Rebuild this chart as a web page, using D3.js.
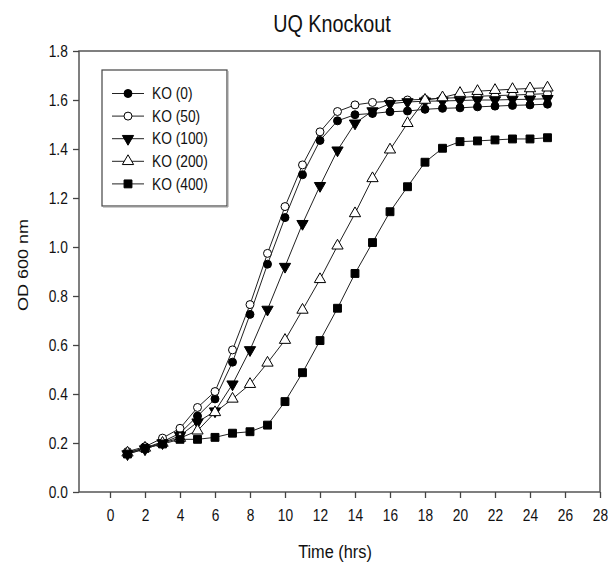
<!DOCTYPE html>
<html>
<head>
<meta charset="utf-8">
<script src="https://cdn.jsdelivr.net/npm/d3@7"></script>
<style>
  html, body { margin: 0; padding: 0; background: #fff; }
  svg { display: block; }
  text { font-family: Arial, "Liberation Sans", sans-serif; fill: #111; }
</style>
</head>
<body>
<svg id="chart" width="608" height="565"></svg>
<script>
// ---- data ----
const hours = [1,2,3,4,5,6,7,8,9,10,11,12,13,14,15,16,17,18,19,20,21,22,23,24,25];
const ko0   = [0.160,0.180,0.205,0.240,0.310,0.380,0.530,0.725,0.930,1.120,1.295,1.435,1.515,1.540,1.545,1.552,1.555,1.562,1.566,1.568,1.572,1.575,1.578,1.580,1.583];
const ko50  = [0.165,0.185,0.220,0.260,0.345,0.410,0.580,0.765,0.974,1.165,1.335,1.470,1.553,1.580,1.590,1.595,1.600,1.603,1.607,1.610,1.615,1.618,1.620,1.623,1.626];
const ko100 = [0.155,0.175,0.200,0.230,0.285,0.330,0.440,0.580,0.745,0.920,1.095,1.250,1.395,1.505,1.555,1.585,1.592,1.595,1.596,1.598,1.600,1.600,1.602,1.603,1.605];
const ko200 = [0.160,0.180,0.200,0.220,0.250,0.325,0.380,0.440,0.527,0.620,0.743,0.868,1.005,1.137,1.280,1.397,1.505,1.600,1.610,1.628,1.636,1.640,1.644,1.647,1.650];
const ko400 = [0.155,0.178,0.196,0.215,0.215,0.223,0.240,0.246,0.273,0.369,0.487,0.618,0.750,0.892,1.018,1.144,1.246,1.346,1.403,1.430,1.433,1.437,1.441,1.441,1.446];
const seriesNames = ["KO (0)", "KO (50)", "KO (100)", "KO (200)", "KO (400)"];
const xTicks = [0,2,4,6,8,10,12,14,16,18,20,22,24,26,28];
const yTicks = [0,0.2,0.4,0.6,0.8,1.0,1.2,1.4,1.6,1.8];
const titleText = "UQ Knockout";
const xTitle = "Time (hrs)";
const yTitle = "OD 600 nm";

// ---- styles ----
const seriesValues = [ko0, ko50, ko100, ko200, ko400];
const markerStyle = [
  {type: d3.symbolCircle,   size: 50, fill: "#000", rot: 0},
  {type: d3.symbolCircle,   size: 50, fill: "#fff", rot: 0},
  {type: d3.symbolTriangle, size: 55, fill: "#000", rot: 180},
  {type: d3.symbolTriangle, size: 55, fill: "#fff", rot: 0},
  {type: d3.symbolSquare,   size: 62, fill: "#000", rot: 0}
];
const SX = 0.86; // horizontal squeeze of the reference's text

const svg = d3.select("#chart");
const L = 79, R = 600, T = 51, B = 492;
const x = d3.scaleLinear().domain([-31/17.5, 28]).range([L, R]);
const y = d3.scaleLinear().domain([0, 1.8]).range([B, T]);

// frame
svg.append("rect").attr("x", L).attr("y", T).attr("width", R - L).attr("height", B - T)
  .attr("fill", "none").attr("stroke", "#555").attr("stroke-width", 1.5);

// axes
const gx = svg.append("g").attr("transform", `translate(0,${B})`)
  .call(d3.axisBottom(x).tickValues(xTicks).tickSize(6).tickPadding(12).tickFormat(d3.format("d")));
const gy = svg.append("g").attr("transform", `translate(${L},0)`)
  .call(d3.axisLeft(y).tickValues(yTicks).tickSize(6).tickPadding(7).tickFormat(d3.format(".1f")));
[gx, gy].forEach(g => {
  g.select(".domain").remove();
  g.selectAll(".tick line").attr("stroke", "#444").attr("stroke-width", 1.3);
  g.selectAll(".tick text").attr("font-size", 16).attr("fill", "#1a1a1a")
    .attr("font-family", "Arial, 'Liberation Sans', sans-serif")
    .attr("transform", `scale(${SX},1)`);
});

// series
const line = d3.line().x((d, i) => x(hours[i])).y(d => y(d));
seriesValues.forEach((vals, s) => {
  svg.append("path").datum(vals).attr("d", line)
    .attr("fill", "none").attr("stroke", "#222").attr("stroke-width", 1);
});
seriesValues.forEach((vals, s) => {
  const m = markerStyle[s];
  const sym = d3.symbol().type(m.type).size(m.size);
  svg.append("g").selectAll("path").data(vals).join("path")
    .attr("d", sym)
    .attr("transform", (d, i) => `translate(${x(hours[i])},${y(d)}) rotate(${m.rot})`)
    .attr("fill", m.fill).attr("stroke", "#000").attr("stroke-width", 1);
});

// legend
const lg = svg.append("g");
lg.append("rect").attr("x", 102).attr("y", 70).attr("width", 125).attr("height", 136)
  .attr("fill", "#fff").attr("stroke", "#444").attr("stroke-width", 1.2);
lg.append("line").attr("x1", 228).attr("y1", 71).attr("x2", 228).attr("y2", 207)
  .attr("stroke", "#999").attr("stroke-width", 1);
lg.append("line").attr("x1", 103).attr("y1", 207).attr("x2", 228).attr("y2", 207)
  .attr("stroke", "#999").attr("stroke-width", 1);
seriesNames.forEach((name, s) => {
  const yy = 93.5 + s * 22.6;
  const m = markerStyle[s];
  lg.append("line").attr("x1", 112).attr("x2", 144).attr("y1", yy).attr("y2", yy)
    .attr("stroke", "#222").attr("stroke-width", 1);
  lg.append("path").attr("d", d3.symbol().type(m.type).size(m.size))
    .attr("transform", `translate(128,${yy}) rotate(${m.rot})`)
    .attr("fill", m.fill).attr("stroke", "#000").attr("stroke-width", 1);
  lg.append("text").attr("transform", `translate(152,${yy + 5.7}) scale(${SX},1)`)
    .attr("font-size", 16).text(name);
});

// titles
svg.append("text").attr("transform", `translate(332,31.5) scale(${SX},1)`)
  .attr("text-anchor", "middle").attr("font-size", 23).attr("fill", "#000").text(titleText);
svg.append("text").attr("transform", `translate(335,558) scale(${SX},1)`)
  .attr("text-anchor", "middle").attr("font-size", 19).text(xTitle);
svg.append("text").attr("transform", `translate(28,265) scale(${SX},1) rotate(-90)`)
  .attr("text-anchor", "middle").attr("font-size", 18).text(yTitle);
</script>
</body>
</html>
